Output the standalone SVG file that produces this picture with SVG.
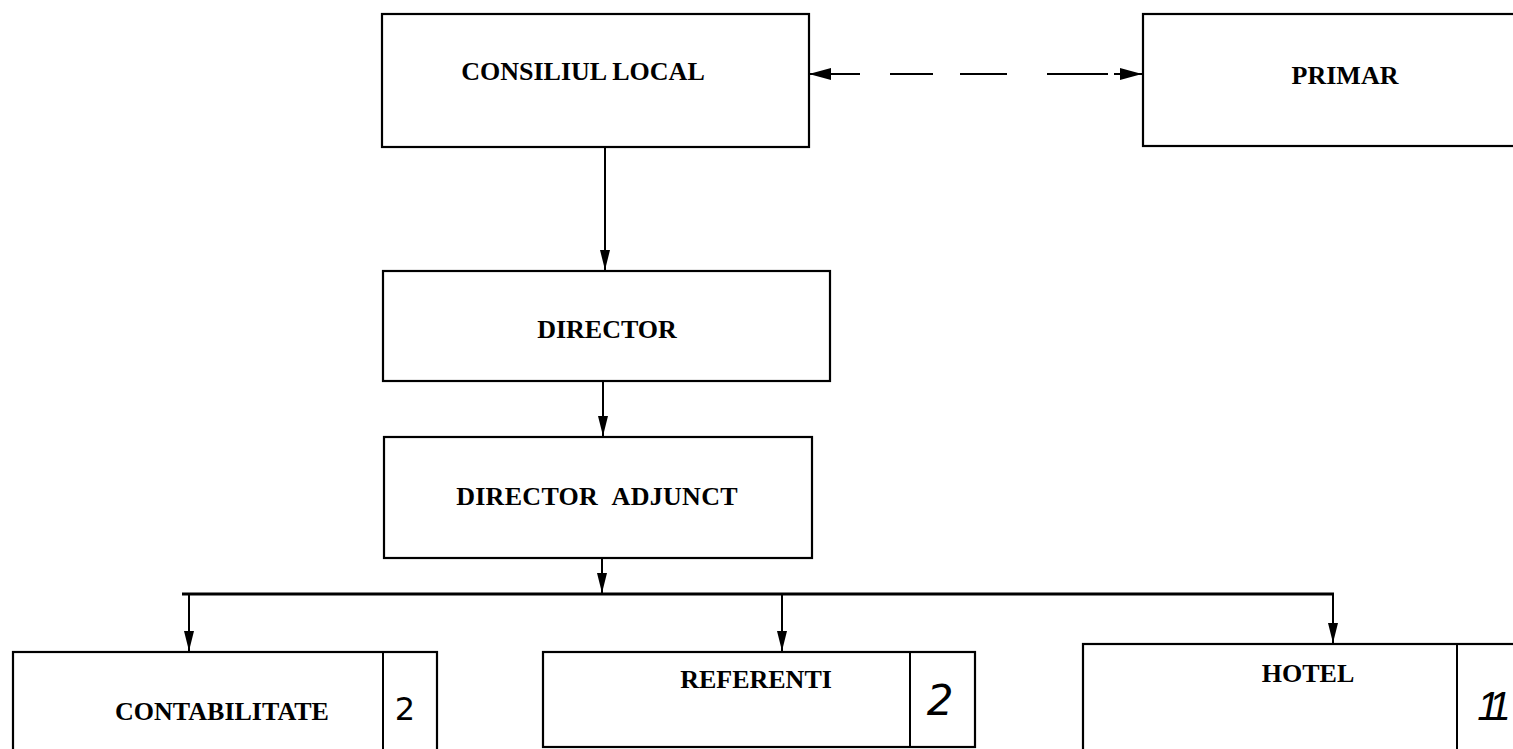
<svg xmlns="http://www.w3.org/2000/svg" width="1513" height="749" viewBox="0 0 1513 749">
<style>
.box{fill:#fff;stroke:#000;stroke-width:2.2}
.lbl{font-family:"Liberation Serif","Times New Roman",serif;font-weight:bold;font-size:26px;fill:#000;text-anchor:middle}
.hand{font-family:"DejaVu Sans","Liberation Sans",sans-serif;font-weight:normal;fill:#000;text-anchor:middle}
.con{fill:none;stroke:#000;stroke-width:2}
</style>
<defs>
<marker id="ah" viewBox="0 0 20 10" refX="20" refY="5" markerWidth="20" markerHeight="10" markerUnits="userSpaceOnUse" orient="auto">
<path d="M0,0 L20,5 L0,10 z" fill="#000"/>
</marker>
<marker id="ahh" viewBox="0 0 22 14" refX="22" refY="7" markerWidth="22" markerHeight="14" markerUnits="userSpaceOnUse" orient="auto-start-reverse">
<path d="M0,1 L22,7 L0,13 z" fill="#000"/>
</marker>
</defs>
<rect width="1513" height="749" fill="#fff"/>
<g id="connectors">
<line class="con" x1="605" y1="147" x2="605" y2="270" marker-end="url(#ah)"/>
<line class="con" x1="603" y1="381" x2="603" y2="436" marker-end="url(#ah)"/>
<line class="con" x1="602" y1="558" x2="602" y2="593" marker-end="url(#ah)"/>
<line x1="182" y1="594" x2="1334" y2="594" stroke="#000" stroke-width="3"/>
<line class="con" x1="189" y1="594" x2="189" y2="651" marker-end="url(#ah)"/>
<line class="con" x1="782" y1="594" x2="782" y2="651" marker-end="url(#ah)"/>
<line class="con" x1="1333" y1="594" x2="1333" y2="643" marker-end="url(#ah)"/>
<path d="M809,74 L860,74 M890,74 L933,74 M960,74 L1007,74 M1047,74 L1108,74 M1114,74 L1142,74" fill="none" stroke="#000" stroke-width="2.2" marker-start="url(#ahh)" marker-end="url(#ahh)"/>
</g>
<g id="consiliul-local">
<rect class="box" x="382" y="14" width="427" height="133"/>
<text class="lbl" x="583" y="80">CONSILIUL LOCAL</text>
</g>
<g id="primar">
<rect class="box" x="1143" y="14" width="380" height="132"/>
<text class="lbl" x="1345" y="84">PRIMAR</text>
</g>
<g id="director">
<rect class="box" x="383" y="271" width="447" height="110"/>
<text class="lbl" x="607" y="338">DIRECTOR</text>
</g>
<g id="director-adjunct">
<rect class="box" x="384" y="437" width="428" height="121"/>
<text class="lbl" x="597" y="505" word-spacing="8" letter-spacing="0.3">DIRECTOR ADJUNCT</text>
</g>
<g id="contabilitate">
<rect class="box" x="13" y="652" width="424" height="110"/>
<line class="con" x1="383" y1="652" x2="383" y2="760"/>
<text class="lbl" x="222" y="720">CONTABILITATE</text>
<text class="hand" x="405" y="720" font-size="32">2</text>
</g>
<g id="referenti">
<rect class="box" x="543" y="652" width="432" height="95"/>
<line class="con" x1="910" y1="652" x2="910" y2="747"/>
<text class="lbl" x="756" y="688">REFERENTI</text>
<text class="hand" x="940" y="715" font-size="42" font-style="italic">2</text>
</g>
<g id="hotel">
<rect class="box" x="1083" y="644" width="440" height="120"/>
<line class="con" x1="1457" y1="644" x2="1457" y2="760"/>
<text class="lbl" x="1308" y="682">HOTEL</text>
<text font-family="Liberation Sans, Arial, sans-serif" font-size="40" font-style="italic" fill="#000" text-anchor="middle" letter-spacing="-8" x="1490" y="720">11</text>
</g>
</svg>
